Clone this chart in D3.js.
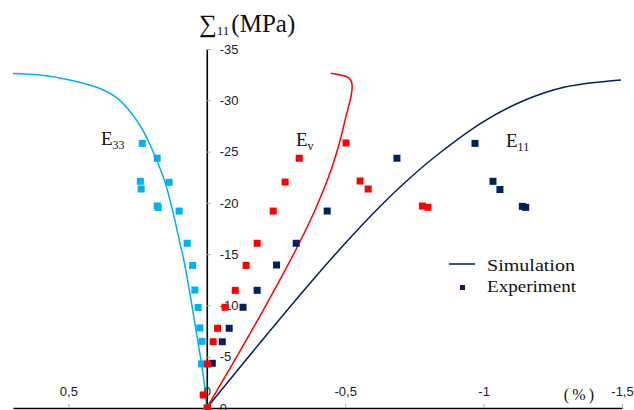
<!DOCTYPE html>
<html>
<head>
<meta charset="utf-8">
<script src="https://cdn.jsdelivr.net/npm/d3@7"></script>
<style>
  html, body { margin: 0; padding: 0; background: #fff; }
  svg { display: block; }
  .tick text { font-family: "Liberation Sans", Arial, sans-serif; font-size: 13px; fill: #222; }
  .tick line { stroke: #aaa; }
  .domain { stroke: #000; stroke-width: 1.6; }
  .serif { font-family: "Liberation Serif", "Times New Roman", serif; fill: #111; }
</style>
</head>
<body>
<svg id="chart" width="634" height="410"></svg>
<script>
// Axis ticks (strain in %, stress in MPa); comma is the decimal separator
const xTicks = [0.5, 0, -0.5, -1, -1.5];
const xTickLabels = ["0,5", "0", "-0,5", "-1", "-1,5"];
const yTicks = [-35, -30, -25, -20, -15, -10, -5, 0];
const yTickLabels = ["-35", "-30", "-25", "-20", "-15", "-10", "-5", "0"];

// Simulated curves: [strain %, stress MPa]
const simE33 = [
  [0.7005, -32.61], [0.603, -32.46], [0.495, -31.98], [0.386, -31.15], [0.321, -30.16],
  [0.271, -28.70], [0.2345, -27.25], [0.213, -26.13], [0.184, -24.37], [0.151, -22.03],
  [0.123, -19.20], [0.097, -16.09], [0.083, -14.43], [0.063, -11.50], [0.045, -8.58],
  [0.027, -5.65], [0.0105, -2.73], [0.000, 0.00]
];
const simEv = [
  [0.000, 0.00], [-0.137, -6.34], [-0.254, -11.99], [-0.336, -16.18], [-0.396, -19.60],
  [-0.449, -23.20], [-0.482, -26.13], [-0.504, -28.56], [-0.522, -30.51], [-0.525, -31.49],
  [-0.520, -31.98], [-0.504, -32.32], [-0.475, -32.51], [-0.448, -32.63]
];
const simE11 = [
  [0.000, 0.00], [-0.192, -6.34], [-0.383, -12.48], [-0.501, -16.09], [-0.624, -19.60],
  [-0.730, -22.33], [-0.846, -24.96], [-0.997, -27.88], [-1.142, -29.93], [-1.294, -31.29],
  [-1.496, -31.98]
];

// Measured points: [strain %, stress MPa]
const expE33 = [
  [0.233, -25.80], [0.179, -24.35], [0.240, -22.10], [0.237, -21.35], [0.136, -22.00],
  [0.179, -19.70], [0.175, -19.55], [0.100, -19.20], [0.071, -16.06], [0.051, -13.90],
  [0.043, -11.50], [0.031, -9.80], [0.025, -7.80], [0.017, -6.50], [0.019, -4.30], [0.000, 0.00]
];
const expE11 = [
  [-0.969, -25.80], [-0.687, -24.35], [-1.034, -22.10], [-1.059, -21.30], [-1.140, -19.66],
  [-1.152, -19.56], [-0.435, -19.20], [-0.323, -16.06], [-0.252, -13.94], [-0.182, -11.47],
  [-0.131, -9.82], [-0.081, -7.77], [-0.056, -6.46], [-0.020, -4.36]
];
const expEv = [
  [-0.503, -25.84], [-0.334, -24.35], [-0.283, -22.03], [-0.554, -22.13], [-0.583, -21.35],
  [-0.240, -19.20], [-0.182, -16.06], [-0.142, -13.90], [-0.779, -19.69], [-0.799, -19.57],
  [-0.103, -11.47], [-0.066, -9.82], [-0.039, -7.77], [-0.023, -6.46], [-0.003, -4.29],
  [0.013, -1.27], [-0.003, 0.00]
];

const colE33 = "#00b0f0", colEv = "#ff0000", colE11 = "#002060";

const svg = d3.select("#chart");
const x = d3.scaleLinear().domain([0.7, -1.5]).range([13, 622]);
const y = d3.scaleLinear().domain([0, -35]).range([408, 49]);

// Simulation curves
const line = d3.line().x(d => x(d[0])).y(d => y(d[1])).curve(d3.curveCatmullRom.alpha(0.5));
[[simE33, colE33], [simE11, colE11], [simEv, colEv]].forEach(([data, c]) => {
  svg.append("path").attr("d", line(data)).attr("fill", "none")
    .attr("stroke", c).attr("stroke-width", 1.5);
});

// Vertical stress axis: ticks and labels on the right of the line
svg.append("g").attr("transform", `translate(${x(0)},0)`)
  .call(d3.axisRight(y).tickValues(yTicks).tickSize(4).tickSizeOuter(0).tickPadding(9)
    .tickFormat((d, i) => yTickLabels[i]));

// Horizontal strain axis: ticks and labels above the line
svg.append("g").attr("transform", `translate(0,${y(0)})`)
  .call(d3.axisTop(x).tickValues(xTicks).tickSize(4).tickSizeOuter(0).tickPadding(8)
    .tickFormat((d, i) => xTickLabels[i]));

// Measured points as squares
const ms = 7;
[[expE33, colE33], [expE11, colE11], [expEv, colEv]].forEach(([data, c]) => {
  svg.append("g").selectAll("rect").data(data).join("rect")
    .attr("x", d => x(d[0]) - ms / 2).attr("y", d => y(d[1]) - ms / 2)
    .attr("width", ms).attr("height", ms).attr("fill", c);
});

// Axis titles
const yt = svg.append("text").attr("class", "serif").attr("x", 199).attr("y", 32);
yt.append("tspan").attr("font-size", 25).text("\u2211");
yt.append("tspan").attr("font-size", 13).attr("dy", 3).text("11");
yt.append("tspan").attr("font-size", 25).attr("dy", -3).attr("dx", 2).text("(MPa)");

svg.append("text").attr("class", "serif").attr("x", 579).attr("y", 400)
  .attr("text-anchor", "middle").attr("font-size", 16).text("(\u2009%\u2009)");

// Curve labels
function curveLabel(px, py, main, sub) {
  const t = svg.append("text").attr("class", "serif").attr("x", px).attr("y", py);
  t.append("tspan").attr("font-size", 19).text(main);
  t.append("tspan").attr("font-size", 12).attr("dy", 4).text(sub);
}
curveLabel(101, 145, "E", "33");
curveLabel(296, 146, "E", "v");
curveLabel(506, 147, "E", "11");

// Legend
svg.append("line").attr("x1", 449).attr("x2", 475).attr("y1", 264).attr("y2", 264)
  .attr("stroke", colE11).attr("stroke-width", 1.5);
svg.append("rect").attr("x", 460).attr("y", 285).attr("width", 5).attr("height", 5).attr("fill", colE11);
svg.append("text").attr("class", "serif").attr("x", 487).attr("y", 271).attr("font-size", 17)
  .attr("textLength", 88).attr("lengthAdjust", "spacingAndGlyphs").text("Simulation");
svg.append("text").attr("class", "serif").attr("x", 487).attr("y", 292).attr("font-size", 17)
  .attr("textLength", 89).attr("lengthAdjust", "spacingAndGlyphs").text("Experiment");
</script>
</body>
</html>
